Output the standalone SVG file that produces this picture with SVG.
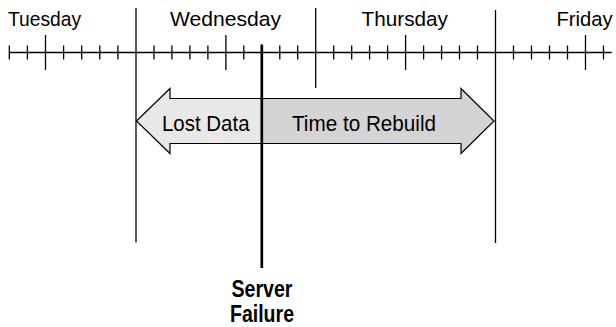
<svg xmlns="http://www.w3.org/2000/svg" width="616" height="327" viewBox="0 0 616 327">
  <style>
    .ln { stroke: #000; stroke-width: 1.3; fill: none; }
    .day { font-family: "Liberation Sans", Arial, sans-serif; font-size: 20.5px; fill: #000; }
    .lbl { font-family: "Liberation Sans", Arial, sans-serif; font-size: 22.5px; fill: #000; }
    .bold { font-family: "Liberation Sans", Arial, sans-serif; font-size: 23px; font-weight: bold; fill: #000; }
  </style>
  <rect width="616" height="327" fill="#fff"/>

  <g id="timeline">
    <line class="ln" x1="9.3" y1="52.5" x2="611.7" y2="52.5"/>
    <path class="ln" d="
      M9.3 45.5V59.5 M27.4 45.5V59.5 M63.6 45.5V59.5 M81.7 45.5V59.5 M99.8 45.5V59.5 M117.9 45.5V59.5
      M45.5 35V70
      M154 45.5V59.5 M171.9 45.5V59.5 M189.9 45.5V59.5 M207.9 45.5V59.5 M243.8 45.5V59.5 M279.8 45.5V59.5 M297.7 45.5V59.5
      M225.9 35V70
      M333.7 45.5V59.5 M351.7 45.5V59.5 M369.6 45.5V59.5 M387.6 45.5V59.5 M423.6 45.5V59.5 M441.6 45.5V59.5 M459.5 45.5V59.5 M477.5 45.5V59.5
      M405.6 35V70
      M513.5 45.5V59.5 M531.5 45.5V59.5 M549.5 45.5V59.5 M567.5 45.5V59.5 M603.5 45.5V59.5
      M585.5 35V70"/>
    <line class="ln" x1="136" y1="8" x2="136" y2="242.5"/>
    <line class="ln" x1="315.7" y1="8" x2="315.7" y2="88"/>
    <line class="ln" x1="495.5" y1="10" x2="495.5" y2="243"/>
  </g>

  <g id="days">
    <text class="day" x="8" y="26" textLength="73" lengthAdjust="spacingAndGlyphs">Tuesday</text>
    <text class="day" x="170" y="26" textLength="111" lengthAdjust="spacingAndGlyphs">Wednesday</text>
    <text class="day" x="361.5" y="26" textLength="86.5" lengthAdjust="spacingAndGlyphs">Thursday</text>
    <text class="day" x="556.5" y="26" textLength="56" lengthAdjust="spacingAndGlyphs">Friday</text>
  </g>

  <g id="arrow">
    <polygon points="136.5,121 170,88.5 170,98.5 261.8,98.5 261.8,143.5 170,143.5 170,153.5" fill="#e8e8e8"/>
    <polygon points="261.8,98.5 461,98.5 461,88.5 494,121 461,153.5 461,143.5 261.8,143.5" fill="#d4d4d4"/>
    <polygon points="136.5,121 170,88.5 170,98.5 461,98.5 461,88.5 494,121 461,153.5 461,143.5 170,143.5 170,153.5" fill="none" stroke="#000" stroke-width="1.2" stroke-linejoin="miter"/>
    <text class="lbl" x="162" y="131" textLength="87.5" lengthAdjust="spacingAndGlyphs">Lost Data</text>
    <text class="lbl" x="292" y="131" textLength="144" lengthAdjust="spacingAndGlyphs">Time to Rebuild</text>
  </g>

  <g id="server-failure">
    <line x1="261.8" y1="44.5" x2="261.8" y2="268" stroke="#000" stroke-width="2.7"/>
    <text class="bold" x="231.5" y="296.5" textLength="61" lengthAdjust="spacingAndGlyphs">Server</text>
    <text class="bold" x="230" y="322" textLength="64" lengthAdjust="spacingAndGlyphs">Failure</text>
  </g>
</svg>
